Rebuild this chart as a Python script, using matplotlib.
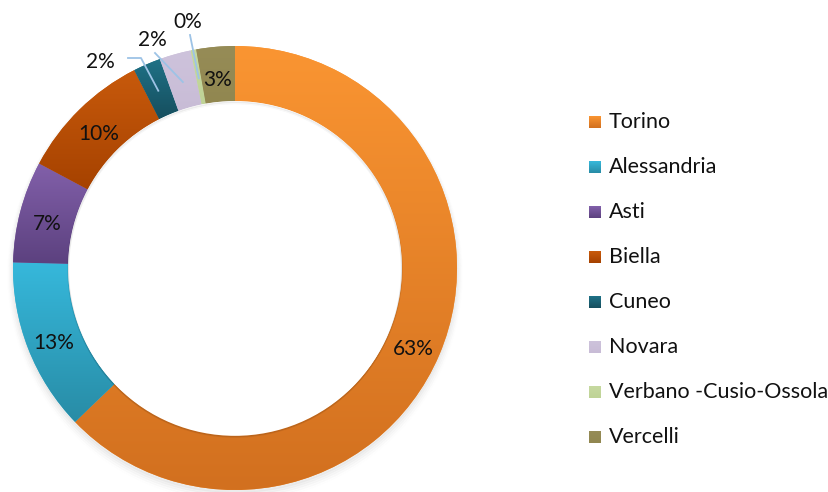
import numpy as np
import matplotlib
matplotlib.use("Agg")
import matplotlib.pyplot as plt
from matplotlib.colors import to_rgb

plt.rcParams['font.family'] = ['Lato', 'DejaVu Sans']

categories = ["Torino", "Alessandria", "Asti", "Biella", "Cuneo", "Novara",
              "Verbano -Cusio-Ossola", "Vercelli"]
values = [62.8, 12.6, 7.4, 9.7, 2.0, 2.3, 0.4, 2.8]
top_colors = ["#FA9532", "#36B8DB", "#8260AA", "#C85A0C", "#1F7287", "#CEC3DC", "#C6D9A0", "#968C57"]
bot_colors = ["#D2701F", "#288CA6", "#5C417F", "#A64200", "#164E5E", "#C8BCD6", "#BFD396", "#918750"]

W, H = 829, 492
fig = plt.figure(figsize=(W / 100, H / 100), dpi=100)
cx, cy, R = 235, 268, 222
ax = fig.add_axes([(cx - R) / W, (H - cy - R) / H, 2 * R / W, 2 * R / H])

wedges, _ = ax.pie(values, startangle=90, counterclock=False, radius=1.0,
                   colors=top_colors, wedgeprops=dict(width=0.248, linewidth=0))
ax.set_xlim(-1, 1)
ax.set_ylim(-1, 1)
ax.set_aspect('equal')
ax.axis('off')
for w in wedges:
    w.set_clip_on(False)

# soft outer shadow
for i, a in enumerate(np.linspace(0.05, 0.01, 5)):
    sh = plt.Circle((0.0, -0.012 - i * 0.004), 1.0 + i * 0.006, color='black', alpha=a * 0.5,
                    zorder=0, clip_on=False)
    ax.add_patch(sh)

# vertical gradient per slice
for w, tc, bc in zip(wedges, top_colors, bot_colors):
    ext = w.get_path().get_extents()
    t = np.linspace(0, 1, 128)[:, None]
    grad = (1 - t) * np.array(to_rgb(tc)) + t * np.array(to_rgb(bc))
    grad = grad[:, None, :]
    im = ax.imshow(grad, extent=[ext.x0, ext.x1, ext.y0, ext.y1], origin='upper',
                   aspect='auto', zorder=2, interpolation='bilinear')
    im.set_clip_path(w)
ax.set_xlim(-1, 1)
ax.set_ylim(-1, 1)

# inner white hole with faint inner shadow
ax.add_patch(plt.Circle((0, 0), 0.752, color='white', zorder=3, lw=0))
for i, a in enumerate([0.07, 0.045, 0.02]):
    ax.add_patch(plt.Circle((0, -0.006 * (i + 1)), 0.752 - 0.004 * i, fill=False,
                            ec='black', alpha=a, lw=1.2, zorder=3.1))
ax.add_patch(plt.Circle((0, -0.009), 0.747, color='white', zorder=3.2, lw=0))

def px2d(px, py):
    return (px - cx) / R, (cy - py) / R

total = sum(values)
cum = 0
angles = []
for v in values:
    mid = 90 - (cum + v / 2) / total * 360
    angles.append(np.deg2rad(mid))
    cum += v

fs = 15
lead_col = "#9DC3E6"
dy_lab = -5 / R
inside = {0: 0.875, 1: 0.875, 2: 0.875, 3: 0.875, 7: 0.875}
for i, r in inside.items():
    a = angles[i]
    ax.text(r * np.cos(a), r * np.sin(a) + dy_lab, f"{values[i] / total * 100:.0f}%",
            ha='center', va='center', fontsize=fs, color='#111111', zorder=5)

outside = {4: (100, 62), 5: (152, 40), 6: (188, 22)}
for i, (lx, ly) in outside.items():
    a = angles[i]
    tx, ty = px2d(lx, ly)
    ax.text(tx, ty, f"{values[i] / total * 100:.0f}%", ha='center', va='center',
            fontsize=fs, color='#111111', zorder=5, clip_on=False)
    ex, ey = 0.87 * np.cos(a), 0.87 * np.sin(a)
    if i == 4:
        p1 = px2d(lx + 28, ly - 4)
        p2 = px2d(lx + 41, ly - 4)
        ax.plot([p1[0], p2[0], ex], [p1[1], p2[1], ey], color=lead_col, lw=1.3, zorder=6,
                clip_on=False)
    else:
        p1 = px2d(lx + (3 if i == 5 else 2), ly + 13)
        ax.plot([p1[0], ex], [p1[1], ey], color=lead_col, lw=1.3, zorder=6, clip_on=False)

# legend
lx0, ly0, dy = 589, 122, 45
for k, (name, tc, bc) in enumerate(zip(categories, top_colors, bot_colors)):
    y = ly0 + k * dy
    t = np.linspace(0, 1, 32)[:, None]
    grad = ((1 - t) * np.array(to_rgb(tc)) + t * np.array(to_rgb(bc)))[:, None, :]
    lax = fig.add_axes([lx0 / W, (H - y - 6) / H, 12 / W, 12 / H])
    lax.imshow(grad, aspect='auto', extent=[0, 1, 0, 1])
    lax.axis('off')
    fig.text((lx0 + 20) / W, (H - y) / H, name, ha='left', va='center', fontsize=15.5,
             color='#111111')

fig.savefig("out.png", dpi=100)
